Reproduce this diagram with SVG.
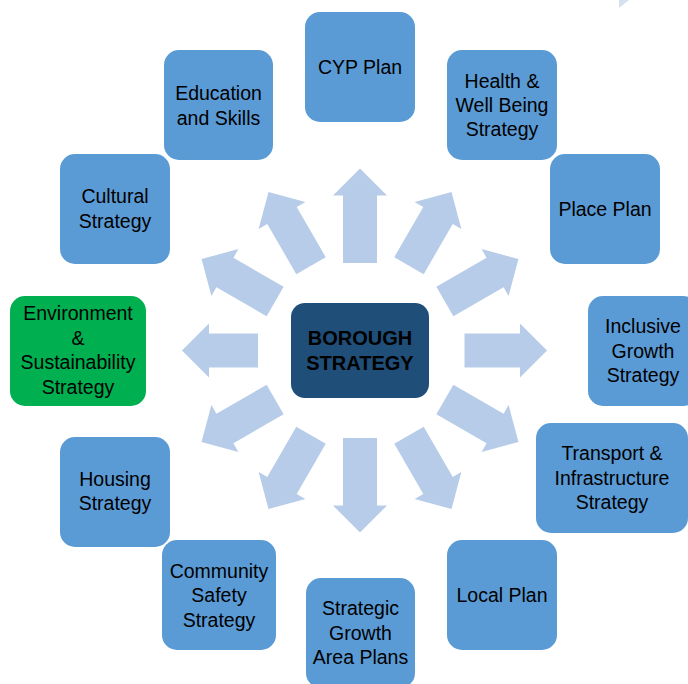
<svg xmlns="http://www.w3.org/2000/svg" xmlns:xlink="http://www.w3.org/1999/xlink" width="688" height="684" viewBox="0 0 688 684">
<style>
.node{fill:#5B9BD5;}
.green{fill:#00B050;}
.core{fill:#1F4E79;}
.arrow{fill:#B7CCE8;}
text{font-family:"Liberation Sans",Arial,sans-serif;font-size:19.5px;fill:#000;text-anchor:middle;}
.bold{font-weight:bold;font-size:20px;}
</style>
<defs>
<polygon id="ad" points="98,-17 156,-17 156,-27 183,0 156,27 156,17 98,17"/>
<polygon id="av" points="87.5,-17 155,-17 155,-27 182,0 155,27 155,17 87.5,17"/>
<polygon id="ah" points="104.5,-17 160,-17 160,-27 187,0 160,27 160,17 104.5,17"/>
<polygon id="al" points="102,-17 151,-17 151,-27 178,0 151,27 151,17 102,17"/>
</defs>
<rect width="688" height="684" fill="#fff"/>
<polygon points="619,0 629,0 619,8" fill="#D6E1F0"/>
<g id="connectors" class="arrow">
<use xlink:href="#ah" transform="translate(360,350.5) rotate(0)"/>
<use xlink:href="#ad" transform="translate(360,350.5) rotate(-30)"/>
<use xlink:href="#ad" transform="translate(360,350.5) rotate(-60)"/>
<use xlink:href="#av" transform="translate(360,350.5) rotate(-90)"/>
<use xlink:href="#ad" transform="translate(360,350.5) rotate(-120)"/>
<use xlink:href="#ad" transform="translate(360,350.5) rotate(-150)"/>
<use xlink:href="#al" transform="translate(360,350.5) rotate(180)"/>
<use xlink:href="#ad" transform="translate(360,350.5) rotate(150)"/>
<use xlink:href="#ad" transform="translate(360,350.5) rotate(120)"/>
<use xlink:href="#av" transform="translate(360,350.5) rotate(90)"/>
<use xlink:href="#ad" transform="translate(360,350.5) rotate(60)"/>
<use xlink:href="#ad" transform="translate(360,350.5) rotate(30)"/>
</g>
<g id="borough">
<rect class="core" x="291" y="303" width="138" height="95" rx="14"/>
<text class="bold" x="360" y="345">BOROUGH</text>
<text class="bold" x="360" y="370">STRATEGY</text>
</g>
<g id="cyp">
<rect class="node" x="305" y="12" width="110" height="110" rx="15"/>
<text x="360" y="74">CYP Plan</text>
</g>
<g id="health">
<rect class="node" x="447" y="50" width="110" height="110" rx="15"/>
<text x="502" y="88">Health &amp;</text>
<text x="502" y="112">Well Being</text>
<text x="502" y="136">Strategy</text>
</g>
<g id="place">
<rect class="node" x="550" y="154" width="110" height="110" rx="15"/>
<text x="605" y="216">Place Plan</text>
</g>
<g id="inclusive">
<rect class="node" x="588" y="296" width="110" height="110" rx="15"/>
<text x="643" y="333">Inclusive</text>
<text x="643" y="357.5">Growth</text>
<text x="643" y="382">Strategy</text>
</g>
<g id="transport">
<rect class="node" x="536" y="423" width="152" height="110" rx="15"/>
<text x="612" y="460">Transport &amp;</text>
<text x="612" y="484.5">Infrastructure</text>
<text x="612" y="509">Strategy</text>
</g>
<g id="local">
<rect class="node" x="447" y="540" width="110" height="110" rx="15"/>
<text x="502" y="602">Local Plan</text>
</g>
<g id="strategic">
<rect class="node" x="306" y="578" width="109" height="110" rx="15"/>
<text x="360.5" y="615">Strategic</text>
<text x="360.5" y="639.5">Growth</text>
<text x="360.5" y="664">Area Plans</text>
</g>
<g id="community">
<rect class="node" x="162" y="540" width="114" height="110" rx="15"/>
<text x="219" y="578">Community</text>
<text x="219" y="602">Safety</text>
<text x="219" y="626.5">Strategy</text>
</g>
<g id="housing">
<rect class="node" x="60" y="437" width="110" height="110" rx="15"/>
<text x="115" y="486">Housing</text>
<text x="115" y="510">Strategy</text>
</g>
<g id="environment">
<rect class="green" x="10" y="296" width="136" height="110" rx="15"/>
<text x="78" y="320">Environment</text>
<text x="78" y="344.5">&amp;</text>
<text x="78" y="369">Sustainability</text>
<text x="78" y="393.5">Strategy</text>
</g>
<g id="cultural">
<rect class="node" x="60" y="154" width="110" height="110" rx="15"/>
<text x="115" y="203">Cultural</text>
<text x="115" y="227.5">Strategy</text>
</g>
<g id="education">
<rect class="node" x="164" y="50" width="109" height="110" rx="15"/>
<text x="218.5" y="100">Education</text>
<text x="218.5" y="124.5">and Skills</text>
</g>
</svg>
